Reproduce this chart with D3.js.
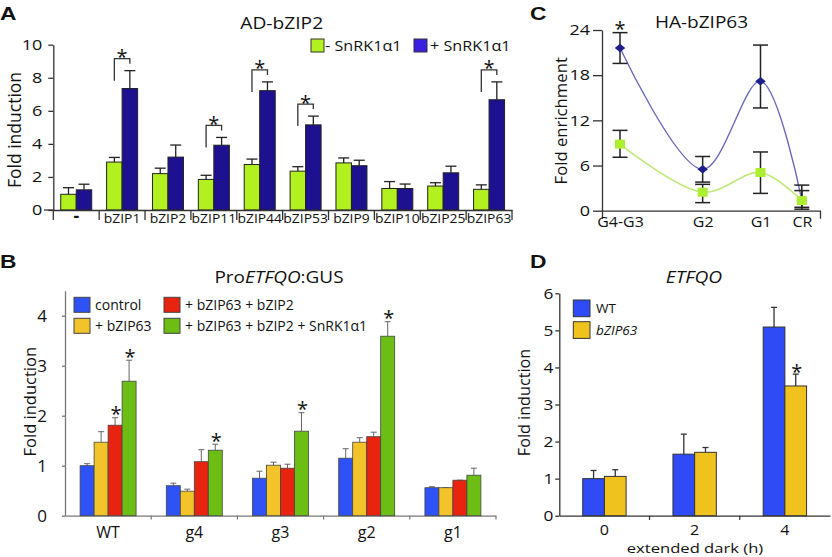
<!DOCTYPE html>
<html><head><meta charset="utf-8">
<script src="https://cdn.jsdelivr.net/npm/d3@7"></script>
<style>body{margin:0;background:#fff} svg{display:block}</style>
</head><body><svg id="c" width="832" height="557"></svg>
<script>
// ---------- Panel A data ----------
const catsA = ["-", "bZIP1", "bZIP2", "bZIP11", "bZIP44", "bZIP53", "bZIP9", "bZIP10", "bZIP25", "bZIP63"];
const seriesA = ["- SnRK1α1", "+ SnRK1α1"];
const aMinus    = [0.95, 2.9, 2.2, 1.85, 2.75, 2.35, 2.85, 1.3, 1.45, 1.25];
const aMinusErr = [0.4, 0.28, 0.33, 0.25, 0.33, 0.27, 0.3, 0.42, 0.2, 0.27];
const aPlus     = [1.22, 7.35, 3.2, 3.92, 7.22, 5.15, 2.68, 1.3, 2.25, 6.67];
const aPlusErr  = [0.34, 1.08, 0.73, 0.47, 0.53, 0.53, 0.33, 0.27, 0.4, 1.08];
const aSig      = [0, 1, 0, 1, 1, 1, 0, 0, 0, 1];
const ticksA = [0, 2, 4, 6, 8, 10];

// ---------- Panel B data ----------
const catsB = ["WT", "g4", "g3", "g2", "g1"];
const seriesB = ["control", "+ bZIP63", "+ bZIP63 + bZIP2", "+ bZIP63 + bZIP2 + SnRK1α1"];
const bControl    = [1.0, 0.6, 0.75, 1.15, 0.56];
const bControlErr = [0.04, 0.05, 0.14, 0.19, 0.02];
const bZ63        = [1.47, 0.49, 1.01, 1.47, 0.56];
const bZ63Err     = [0.21, 0.04, 0.06, 0.09, 0.0];
const bZ63Z2      = [1.81, 1.08, 0.95, 1.58, 0.71];
const bZ63Z2Err   = [0.15, 0.24, 0.08, 0.09, 0.0];
const bAll        = [2.69, 1.31, 1.69, 3.59, 0.81];
const bAllErr     = [0.42, 0.12, 0.37, 0.29, 0.14];
const bSig = [[0, 2], [0, 3], [1, 3], [2, 3], [3, 3]]; // [category, series]
const ticksB = [0, 1, 2, 3, 4];

// ---------- Panel C data ----------
const catsC = ["G4-G3", "G2", "G1", "CR"];
const posC  = [0, 1, 1.7, 2.2];
const seriesC = ["+ SnRK1α1", "- SnRK1α1"];
const cPlus   = [21.6, 5.5, 17.2, 1.4];
const cPlusLo = [19.56, 3.8, 13.65, 0.2];
const cPlusHi = [23.65, 7.2, 22.0, 3.4];
const cMinus   = [8.85, 2.45, 5.07, 1.35];
const cMinusLo = [7.1, 1.07, 2.3, 0.45];
const cMinusHi = [10.67, 3.5, 7.8, 2.67];
const cSig = [1, 0, 0, 0];
const ticksC = [0, 6, 12, 18, 24];

// ---------- Panel D data ----------
const catsD = ["0", "2", "4"];
const seriesD = ["WT", "bZIP63"];
const dWT     = [1.0, 1.66, 5.09];
const dWTErr  = [0.22, 0.54, 0.53];
const dMut    = [1.06, 1.71, 3.5];
const dMutErr = [0.18, 0.13, 0.32];
const dSig    = [0, 0, 1];
const ticksD = [0, 1, 2, 3, 4, 5, 6];

// ---------- helpers ----------
const svg = d3.select("#c");
const FONT = "'Open Sans', sans-serif";
const LETTER = "'Liberation Sans', Arial, sans-serif";
const fmtInt = d3.format("d");

function txt(g, s, x, y, o = {}) {
  const t = g.append("text").attr("font-family", o.family || FONT).attr("font-size", o.fs || 14)
    .attr("text-anchor", o.anchor || "start").attr("fill", o.fill || "#111");
  if (o.weight) t.attr("font-weight", o.weight);
  if (o.italic) t.attr("font-style", "italic");
  let tr = `translate(${x},${y})`;
  if (o.rot) tr += ` rotate(${o.rot})`;
  if (o.sx || o.sy) tr += ` scale(${o.sx || 1},${o.sy || 1})`;
  t.attr("transform", tr);
  if (Array.isArray(s)) s.forEach(p => t.append("tspan").attr("font-style", p.i ? "italic" : "normal").text(p.t));
  else t.text(s);
  return t;
}
function styleAxis(g, fs, sx, stroke) {
  g.selectAll("path.domain").attr("stroke", stroke).attr("stroke-width", 1.3);
  g.selectAll(".tick line").attr("stroke", stroke).attr("stroke-width", 1.3);
  g.selectAll(".tick text").attr("font-size", fs).attr("font-family", FONT).attr("fill", "#111")
    .each(function () {
      const t = d3.select(this); const x = +t.attr("x") || 0;
      t.attr("transform", `translate(${x},0) scale(${sx},1) translate(${-x},0)`);
    });
}
function star(g, x, cy, fs = 20) { txt(g, "*", x, cy + fs * 0.58, { fs, anchor: "middle" }); }

// ================= Panel A =================
const gA = svg.append("g");
const xA = d3.scaleBand().domain(catsA).range([53.3, 512]);
const yA = d3.scaleLinear().domain([0, 10]).range([210, 44.7]);
const subA = d3.scaleBand().domain([0, 1]).range([0, xA.bandwidth()]).paddingOuter(0.48);
const colA = ["#b2f020", "#1d118f"];
const legColA = ["#b2f020", "#3a20e0"];
const valsA = [aMinus, aPlus], errsA = [aMinusErr, aPlusErr];

[0, 1].forEach(s => {
  gA.append("g").selectAll("rect").data(catsA).join("rect")
    .attr("x", d => xA(d) + subA(s)).attr("width", subA.bandwidth())
    .attr("y", (d, i) => yA(valsA[s][i])).attr("height", (d, i) => yA(0) - yA(valsA[s][i]))
    .attr("fill", colA[s]).attr("stroke", "#222").attr("stroke-width", 1);
  const eg = gA.append("g").attr("stroke", "#222").attr("stroke-width", 1.3);
  catsA.forEach((c, i) => {
    const cx = xA(c) + subA(s) + subA.bandwidth() / 2;
    const y1 = yA(valsA[s][i]), y2 = yA(valsA[s][i] + errsA[s][i]);
    eg.append("line").attr("x1", cx).attr("x2", cx).attr("y1", y1).attr("y2", y2);
    eg.append("line").attr("x1", cx - 5.5).attr("x2", cx + 5.5).attr("y1", y2).attr("y2", y2);
  });
});
// significance brackets
catsA.forEach((c, i) => {
  if (!aSig[i]) return;
  const xl = xA(c) + subA(0) + subA.bandwidth() / 2, xr = xA(c) + subA(1) + subA.bandwidth() / 2;
  const top = yA(aPlus[i] + aPlusErr[i]) - 12;
  gA.append("path").attr("d", `M${xl},${top + 22}V${top}H${xr}V${top + 5}`)
    .attr("fill", "none").attr("stroke", "#333").attr("stroke-width", 1.3);
  star(gA, (xl + xr) / 2, top - 6);
});
// axes
const axA = gA.append("g").attr("transform", "translate(53.3,0)")
  .call(d3.axisLeft(yA).tickValues(ticksA).tickFormat(fmtInt).tickSize(5).tickSizeOuter(0).tickPadding(6));
styleAxis(axA, 15, 1.2, "#333");
const axAx = gA.append("g").attr("transform", "translate(0,210)")
  .call(d3.axisBottom(xA).tickSize(0).tickPadding(3.5));
styleAxis(axAx, 13.5, 1.03, "#333");
axAx.selectAll(".tick text").filter(d => d === "-").attr("font-weight", "bold").attr("font-size", 17).attr("dy", "0.5em");
gA.append("line").attr("x1", 44).attr("x2", 53.3).attr("y1", 210).attr("y2", 210).attr("stroke", "#333").attr("stroke-width", 1.3);
gA.append("g").selectAll("line").data(catsA.map(c => xA(c)).concat([xA.range()[1]])).join("line")
  .attr("x1", d => d).attr("x2", d => d).attr("y1", 210).attr("y2", 220)
  .attr("stroke", "#333").attr("stroke-width", 1.3);
// legend
const legA = [[311, 325], [414, 430]];
seriesA.forEach((s, k) => {
  gA.append("rect").attr("x", legA[k][0]).attr("y", 39).attr("width", 13).attr("height", 13)
    .attr("fill", legColA[k]).attr("stroke", "#333").attr("stroke-width", 1);
  txt(gA, s, legA[k][1], 51.2, { fs: 15, sx: 1.08 });
});
txt(gA, "AD-bZIP2", 281.7, 29, { fs: 16, sx: 1.2, anchor: "middle" });
txt(gA, "Fold induction", 20.7, 130, { fs: 17.5, rot: -90, anchor: "middle" });
txt(gA, "A", 0, 20, { family: LETTER, weight: "bold", fs: 19, sx: 1.2 });

// ================= Panel B =================
const gB = svg.append("g");
const xB = d3.scaleBand().domain(catsB).range([65, 496]);
const yB = d3.scaleLinear().domain([0, 4.5]).range([515.7, 290.7]);
const subB = d3.scaleBand().domain([0, 1, 2, 3]).range([0, xB.bandwidth()]).paddingOuter(1.08);
const colB = ["#2f52f6", "#f2c42a", "#e8230f", "#6cbd14"];
const valsB = [bControl, bZ63, bZ63Z2, bAll], errsB = [bControlErr, bZ63Err, bZ63Z2Err, bAllErr];

const axB = gB.append("g").attr("transform", "translate(65,0)")
  .call(d3.axisLeft(yB).tickValues(ticksB).tickFormat(fmtInt).tickSize(3).tickSizeOuter(0).tickPadding(15));
styleAxis(axB, 17, 1.0, "#777");
const axBx = gB.append("g").attr("transform", "translate(0,515.7)")
  .call(d3.axisBottom(xB).tickSize(0).tickPadding(11));
styleAxis(axBx, 16, 1.0, "#777");
gB.append("g").selectAll("line").data(catsB.slice(1).map(c => xB(c)).concat([xB.range()[1]])).join("line")
  .attr("x1", d => d).attr("x2", d => d).attr("y1", 515.7).attr("y2", 519.5)
  .attr("stroke", "#777").attr("stroke-width", 1.2);

[0, 1, 2, 3].forEach(s => {
  const eg = gB.append("g").attr("stroke", "#666").attr("stroke-width", 1);
  catsB.forEach((c, i) => {
    const cx = xB(c) + subB(s) + subB.bandwidth() / 2;
    const y1 = yB(valsB[s][i]), y2 = yB(valsB[s][i] + errsB[s][i]);
    eg.append("line").attr("x1", cx).attr("x2", cx).attr("y1", y1).attr("y2", y2);
    eg.append("line").attr("x1", cx - 3).attr("x2", cx + 3).attr("y1", y2).attr("y2", y2);
  });
  gB.append("g").selectAll("rect").data(catsB).join("rect")
    .attr("x", d => xB(d) + subB(s)).attr("width", subB.bandwidth())
    .attr("y", (d, i) => yB(valsB[s][i])).attr("height", (d, i) => yB(0) - yB(valsB[s][i]))
    .attr("fill", colB[s]).attr("stroke", "#444").attr("stroke-width", 0.8);
});
bSig.forEach(([i, s]) => {
  const cx = xB(catsB[i]) + subB(s) + subB.bandwidth() / 2;
  star(gB, cx + 1, yB(valsB[s][i] + errsB[s][i]) - 8);
});
// legend
const legB = [[74, 297.3, 95], [74, 318.3, 95], [164, 297.3, 185], [164, 318.3, 185]];
seriesB.forEach((s, k) => {
  gB.append("rect").attr("x", legB[k][0]).attr("y", legB[k][1]).attr("width", 16).attr("height", 15)
    .attr("fill", colB[k]).attr("stroke", "#444").attr("stroke-width", 1);
  txt(gB, s, legB[k][2], legB[k][1] + 12.2, { fs: 14 });
});
txt(gB, [{ t: "Pro" }, { t: "ETFQO", i: 1 }, { t: ":GUS" }], 279, 283.3, { fs: 16.5, sx: 1.15, anchor: "middle" });
txt(gB, "Fold induction", 36.2, 401.7, { fs: 16.5, rot: -90, anchor: "middle" });
txt(gB, "B", 0, 268, { family: LETTER, weight: "bold", fs: 19, sx: 1.2 });

// ================= Panel C =================
const gC = svg.append("g");
const xC = d3.scaleLinear().domain([-0.218, 2.42]).range([602, 820]);
const yC = d3.scaleLinear().domain([0, 24]).range([210.7, 30]);
const axC = gC.append("g").attr("transform", "translate(602,0)")
  .call(d3.axisLeft(yC).tickValues(ticksC).tickFormat(fmtInt).tickSize(9).tickSizeOuter(0).tickPadding(3));
styleAxis(axC, 15, 1.2, "#333");
const axCx = gC.append("g").attr("transform", "translate(0,210.7)")
  .call(d3.axisBottom(xC).tickValues(posC).tickFormat((d, i) => catsC[i]).tickSizeInner(0).tickSizeOuter(8).tickPadding(5.7));
styleAxis(axCx, 14.5, 1.1, "#333");

const lineC = d3.line().x((d, i) => xC(posC[i])).y(d => yC(d)).curve(d3.curveCatmullRom.alpha(0.5));
gC.append("path").attr("d", lineC(cMinus)).attr("fill", "none").attr("stroke", "#bde878").attr("stroke-width", 1.6);
gC.append("path").attr("d", lineC(cPlus)).attr("fill", "none").attr("stroke", "#6a6abd").attr("stroke-width", 1.4);
const errC = gC.append("g").attr("stroke", "#222").attr("stroke-width", 1.5);
[[cPlusLo, cPlusHi], [cMinusLo, cMinusHi]].forEach(([lo, hi]) => {
  posC.forEach((p, i) => {
    const cx = xC(p);
    errC.append("line").attr("x1", cx).attr("x2", cx).attr("y1", yC(lo[i])).attr("y2", yC(hi[i]));
    [lo[i], hi[i]].forEach(v => errC.append("line").attr("x1", cx - 7.5).attr("x2", cx + 7.5).attr("y1", yC(v)).attr("y2", yC(v)));
  });
});
const diamond = d3.symbol(d3.symbolSquare, 55)();
gC.append("g").selectAll("path").data(cPlus).join("path").attr("d", diamond)
  .attr("transform", (d, i) => `translate(${xC(posC[i])},${yC(d)}) scale(1,0.8) rotate(45)`)
  .attr("fill", "#1e1e8c");
gC.append("g").selectAll("rect").data(cMinus).join("rect")
  .attr("x", (d, i) => xC(posC[i]) - 5).attr("y", d => yC(d) - 4.5).attr("width", 10).attr("height", 9)
  .attr("fill", "#aeee30");
cSig.forEach((s, i) => { if (s) star(gC, xC(posC[i]), yC(cPlusHi[i]) - 8); });
txt(gC, "HA-bZIP63", 701.5, 28.3, { fs: 16, sx: 1.19, anchor: "middle" });
txt(gC, "Fold enrichment", 566.7, 120.8, { fs: 16.7, rot: -90, anchor: "middle" });
txt(gC, "C", 530, 20, { family: LETTER, weight: "bold", fs: 19, sx: 1.2 });

// ================= Panel D =================
const gD = svg.append("g");
const xD = d3.scaleBand().domain(catsD).range([559.3, 830]);
const yD = d3.scaleLinear().domain([0, 6]).range([515.7, 293.3]);
const subD = d3.scaleBand().domain([0, 1]).range([0, xD.bandwidth()]).paddingOuter(1.08);
const colD = ["#2f4bf6", "#f0c21e"];
const valsD = [dWT, dMut], errsD = [dWTErr, dMutErr];
const axD = gD.append("g").attr("transform", "translate(559.3,0)")
  .call(d3.axisLeft(yD).tickValues(ticksD).tickFormat(fmtInt).tickSize(4).tickSizeOuter(0).tickPadding(2));
styleAxis(axD, 15, 1.15, "#333");
const axDx = gD.append("g").attr("transform", "translate(0,515.7)")
  .call(d3.axisBottom(xD).tickSize(0).tickSizeOuter(0).tickPadding(9));
styleAxis(axDx, 14, 1.15, "#333");
gD.append("g").selectAll("line").data(catsD.slice(1).map(c => xD(c))).join("line")
  .attr("x1", d => d).attr("x2", d => d).attr("y1", 515.7).attr("y2", 520)
  .attr("stroke", "#333").attr("stroke-width", 1.2);
[0, 1].forEach(s => {
  const eg = gD.append("g").attr("stroke", "#333").attr("stroke-width", 1.3);
  catsD.forEach((c, i) => {
    const cx = xD(c) + subD(s) + subD.bandwidth() / 2;
    const y1 = yD(valsD[s][i]), y2 = yD(valsD[s][i] + errsD[s][i]);
    eg.append("line").attr("x1", cx).attr("x2", cx).attr("y1", y1).attr("y2", y2);
    eg.append("line").attr("x1", cx - 3).attr("x2", cx + 3).attr("y1", y2).attr("y2", y2);
  });
  gD.append("g").selectAll("rect").data(catsD).join("rect")
    .attr("x", d => xD(d) + subD(s)).attr("width", subD.bandwidth())
    .attr("y", (d, i) => yD(valsD[s][i])).attr("height", (d, i) => yD(0) - yD(valsD[s][i]))
    .attr("fill", colD[s]).attr("stroke", "#333").attr("stroke-width", 1);
});
dSig.forEach((s, i) => {
  if (!s) return;
  const cx = xD(catsD[i]) + subD(1) + subD.bandwidth() / 2;
  star(gD, cx + 1, yD(dMut[i] + dMutErr[i]) - 7);
});
seriesD.forEach((s, k) => {
  const y0 = 300 + k * 21.7;
  gD.append("rect").attr("x", 573.3).attr("y", y0).attr("width", 16.7).attr("height", 16.7)
    .attr("fill", colD[k]).attr("stroke", "#333").attr("stroke-width", 1);
  txt(gD, s, 596, y0 + 12.8, { fs: 13.5, italic: k === 1 });
});
txt(gD, "ETFQO", 694, 283.3, { fs: 16, sx: 1.2, anchor: "middle", italic: true });
txt(gD, "extended dark (h)", 695, 552.6, { fs: 13.5, sx: 1.23, anchor: "middle" });
txt(gD, "Fold induction", 530, 402.5, { fs: 16.2, rot: -90, anchor: "middle" });
txt(gD, "D", 530, 268, { family: LETTER, weight: "bold", fs: 19, sx: 1.2 });
</script>
</body></html>
